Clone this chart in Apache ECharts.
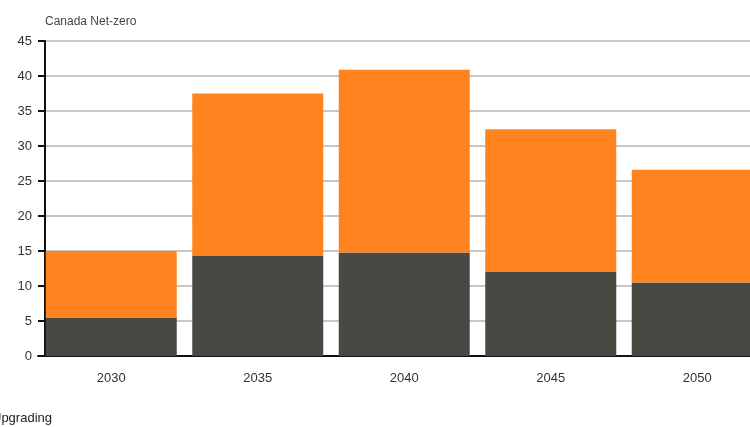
<!DOCTYPE html>
<html>
<head>
<meta charset="utf-8">
<script src="https://cdn.jsdelivr.net/npm/echarts@6/dist/echarts.min.js"></script>
<style>
  html, body { margin: 0; padding: 0; background: #fff; }
  #main { width: 750px; height: 427px; }
</style>
</head>
<body>
<div id="main"></div>
<script>
// data
var years = ["2030", "2035", "2040", "2045", "2050"];
var baseValues = [5.5, 14.3, 14.8, 12.0, 10.5];        // dark part
var upgradingValues = [9.5, 23.2, 26.1, 20.4, 16.1];   // orange part on top
var yTicks = [0, 5, 10, 15, 20, 25, 30, 35, 40, 45];

var myChart = echarts.init(document.getElementById("main"));

var option = {
  backgroundColor: "#fff",
  animation: false,
  title: {
    text: "Canada Net-zero",
    left: 40,
    top: 11,
    textStyle: { fontFamily: "Liberation Sans", fontSize: 12, fontWeight: "normal", color: "#444" }
  },
  // legend is cut off by the left edge in the original, only its text shows
  graphic: [
    {
      type: "text",
      x: -8,
      y: 412,
      style: { text: "Upgrading", fontFamily: "Liberation Sans", fontSize: 13, fill: "#222" }
    }
  ],
  grid: {
    left: 38,
    top: 41,
    width: 732.5,
    bottom: 71,
    outerBoundsMode: "none"
  },
  xAxis: {
    type: "category",
    data: years,
    axisLine: { lineStyle: { color: "#111", width: 2 } },
    axisTick: { alignWithLabel: true, length: 6, lineStyle: { color: "#111", width: 2 } },
    axisLabel: { fontFamily: "Liberation Sans", fontSize: 13, color: "#333", margin: 16 }
  },
  yAxis: {
    type: "value",
    min: yTicks[0],
    max: yTicks[yTicks.length - 1],
    interval: 5,
    offset: -7,
    axisLine: { show: true, lineStyle: { color: "#111", width: 2 } },
    axisTick: { show: true, length: 7, lineStyle: { color: "#111", width: 2 } },
    axisLabel: { fontFamily: "Liberation Sans", fontSize: 13, color: "#333", margin: 13 },
    splitLine: { show: true, lineStyle: { color: "#b5b5b5", width: 1.5 } }
  },
  series: [
    {
      name: "Base",
      type: "bar",
      stack: "total",
      barWidth: 131,
      color: "#4a4843",
      data: baseValues
    },
    {
      name: "Upgrading",
      type: "bar",
      stack: "total",
      barWidth: 131,
      color: "#ff8420",
      data: upgradingValues
    }
  ]
};
myChart.setOption(option);
</script>
</body>
</html>
